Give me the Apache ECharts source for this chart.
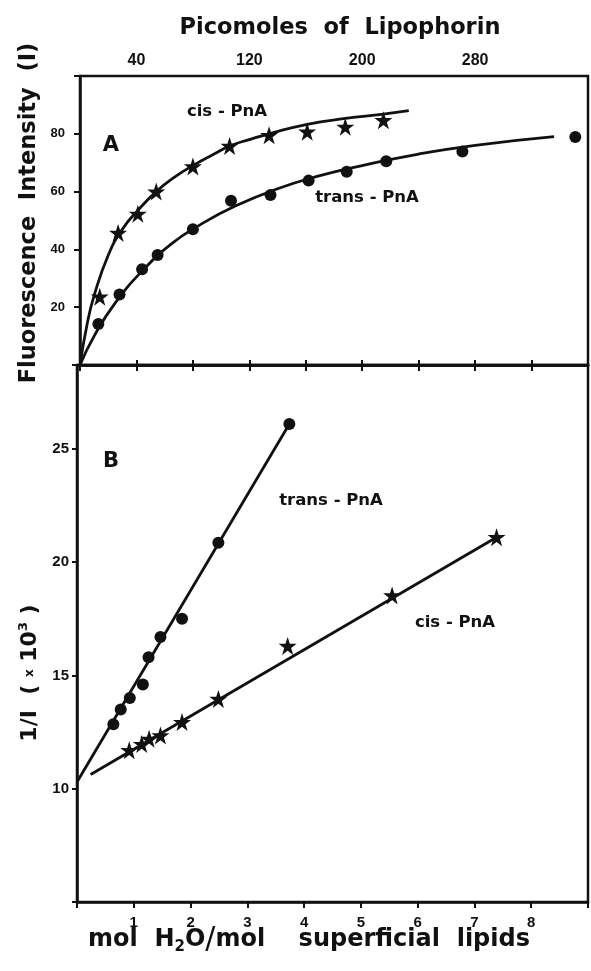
<!DOCTYPE html>
<html>
<head>
<meta charset="utf-8">
<script src="https://cdn.jsdelivr.net/npm/echarts@6/dist/echarts.min.js"></script>
<style>
html, body { margin: 0; padding: 0; background: #fff; }
#main { width: 591px; height: 971px; }
</style>
</head>
<body>
<div id="main"></div>
<script>
// panel A : fluorescence vs picomoles of lipophorin
var cisPmol = [14, 27, 41, 54, 80, 106, 134, 161, 188, 215];
var cisInt = [23.6, 45.7, 52.3, 60, 68.7, 75.8, 79.5, 80.7, 82.4, 84.7];
var transPmol = [13, 28, 44, 55, 80, 107, 135, 162, 189, 217, 271, 351];
var transInt = [14.2, 24.4, 33.1, 38.1, 47, 56.8, 58.8, 63.8, 66.9, 70.5, 73.9, 78.9];
// fitted curves
var cisCurvePmol = [0, 5, 10, 20, 30, 41, 54, 67, 80, 95, 106, 120, 134, 161, 188, 215, 233];
var cisCurveInt = [0, 14, 24, 38, 47, 53.5, 60, 65, 69, 73, 75.8, 78, 80, 83.3, 85.3, 86.8, 88];
var transCurvePmol = [0, 10, 25, 45, 65, 85, 110, 140, 170, 200, 240, 280, 336];
var transCurveInt = [0, 10, 21.5, 33, 42, 48.5, 55, 61, 65.5, 69, 73, 76, 79];

// panel B : 1/I (x10^3) vs mol H2O / mol superficial lipids
var transRatioX = [0.64, 0.77, 0.93, 1.16, 1.26, 1.47, 1.85, 2.49, 3.74];
var transRatioY = [12.84, 13.5, 14.0, 14.6, 15.8, 16.7, 17.5, 20.86, 26.1];
var cisRatioX = [0.92, 1.14, 1.27, 1.47, 1.85, 2.49, 3.71, 5.55, 7.39];
var cisRatioY = [11.7, 11.97, 12.2, 12.35, 12.94, 13.96, 16.3, 18.53, 21.1];
var transLineX = [0, 3.74];
var transLineY = [10.3, 26.1];
var cisLineX = [0.24, 7.39];
var cisLineY = [10.63, 21.1];

// tick labels
var pmolLabels = [40, 120, 200, 280];
var intLabels = [20, 40, 60, 80];
var molLabels = [1, 2, 3, 4, 5, 6, 7, 8];
var invLabels = [10, 15, 20, 25];

var ink = '#111';
var fam = '"DejaVu Sans", sans-serif';
var tickFam = '"Liberation Sans", Arial, sans-serif';
var star = 'path://M50,0L61.8,35.1L98.9,35.1L68.9,56.9L80.3,92.7L50,70.5L19.7,92.7L31.1,56.9L1.1,35.1L38.2,35.1Z';

function zip(a, b) {
    return a.map(function (v, i) { return [v, b[i]]; });
}
function only(list) {
    return function (v) { return list.indexOf(Math.round(v * 100) / 100) >= 0 ? String(v) : ''; };
}
function txt(x, y, text, size, opts) {
    opts = opts || {};
    return {
        type: 'text', x: x, y: y, rotation: opts.rot || 0, z: 10,
        style: {
            text: text, fill: ink,
            font: 'bold ' + size + 'px ' + fam,
            align: opts.align || 'center', verticalAlign: 'middle',
            textAlign: opts.align || 'center', textVerticalAlign: 'middle',
            rich: opts.rich
        }
    };
}

var chart = echarts.init(document.getElementById('main'));

var axisLine = { show: true, lineStyle: { color: ink, width: 2.5 } };
var tick = function (len) { return { show: true, length: len, lineStyle: { color: ink, width: 2 } }; };
var lbl = function (size, margin, list) {
    return { show: true, color: ink, fontSize: size, fontWeight: 'bold', fontFamily: tickFam, margin: margin, formatter: only(list) };
};
var dot = { color: ink, opacity: 1 };

option = {
    backgroundColor: '#fff',
    animation: false,
    grid: [
        { left: 80, right: 1, top: 76, height: 289, show: true, borderColor: ink, borderWidth: 2.5 },
        { left: 77, right: 1, top: 365, height: 537, show: true, borderColor: ink, borderWidth: 2.5 }
    ],
    xAxis: [
        {   // picomoles, top
            type: 'value', gridIndex: 0, position: 'top', min: 0, max: 360, interval: 40,
            axisLine: axisLine, axisTick: tick(5), splitLine: { show: false },
            axisLabel: lbl(16, 7, pmolLabels)
        },
        {   // divider ticks
            type: 'value', gridIndex: 0, position: 'bottom', min: 0, max: 9, interval: 1,
            axisLine: axisLine, axisTick: tick(6), splitLine: { show: false },
            axisLabel: { show: false }
        },
        {   // mol H2O / mol lipids
            type: 'value', gridIndex: 1, position: 'bottom', min: 0, max: 9, interval: 1,
            axisLine: axisLine, axisTick: tick(6), splitLine: { show: false },
            axisLabel: lbl(15, 13, molLabels)
        }
    ],
    yAxis: [
        {
            type: 'value', gridIndex: 0, min: 0, max: 100, interval: 20,
            axisLine: axisLine, axisTick: tick(6), splitLine: { show: false },
            axisLabel: lbl(13, 15, intLabels)
        },
        {
            type: 'value', gridIndex: 1, min: 5, max: 28.7, interval: 5,
            axisLine: axisLine, axisTick: tick(5), splitLine: { show: false },
            axisLabel: lbl(15, 8, invLabels)
        }
    ],
    series: [
        {
            name: 'cis curve', type: 'line', xAxisIndex: 0, yAxisIndex: 0, smooth: true,
            showSymbol: false, data: zip(cisCurvePmol, cisCurveInt),
            lineStyle: { color: ink, width: 2.8 }
        },
        {
            name: 'trans curve', type: 'line', xAxisIndex: 0, yAxisIndex: 0, smooth: true,
            showSymbol: false, data: zip(transCurvePmol, transCurveInt),
            lineStyle: { color: ink, width: 2.8 }
        },
        {
            name: 'cis-PnA', type: 'scatter', xAxisIndex: 0, yAxisIndex: 0,
            symbol: star, symbolSize: 18, data: zip(cisPmol, cisInt), itemStyle: dot
        },
        {
            name: 'trans-PnA', type: 'scatter', xAxisIndex: 0, yAxisIndex: 0,
            symbol: 'circle', symbolSize: 12, data: zip(transPmol, transInt), itemStyle: dot
        },
        {
            name: 'trans line', type: 'line', xAxisIndex: 2, yAxisIndex: 1,
            showSymbol: false, data: zip(transLineX, transLineY),
            lineStyle: { color: ink, width: 2.8 }
        },
        {
            name: 'cis line', type: 'line', xAxisIndex: 2, yAxisIndex: 1,
            showSymbol: false, data: zip(cisLineX, cisLineY),
            lineStyle: { color: ink, width: 2.8 }
        },
        {
            name: 'trans-PnA B', type: 'scatter', xAxisIndex: 2, yAxisIndex: 1,
            symbol: 'circle', symbolSize: 12, data: zip(transRatioX, transRatioY), itemStyle: dot
        },
        {
            name: 'cis-PnA B', type: 'scatter', xAxisIndex: 2, yAxisIndex: 1,
            symbol: star, symbolSize: 18, data: zip(cisRatioX, cisRatioY), itemStyle: dot
        }
    ],
    graphic: [
        txt(340, 28, 'Picomoles  of  Lipophorin', 22.5),
        txt(29, 213, 'Fluorescence  Intensity  (I)', 22.5, { rot: Math.PI / 2 }),
        txt(30, 673, '1/I  ( {s|x} 10{sup|3} )', 22, {
            rot: Math.PI / 2,
            rich: {
                s: { fontSize: 12, fontWeight: 'bold', fontFamily: fam, fill: ink },
                sup: { fontSize: 13, fontWeight: 'bold', fontFamily: fam, fill: ink, verticalAlign: 'top', lineHeight: 26 }
            }
        }),
        txt(88, 940, 'mol  H{sub|2}O{sl|/}mol    superficial  lipids', 24, {
            align: 'left',
            rich: {
                sub: { fontSize: 15, fontWeight: 'bold', fontFamily: fam, fill: ink, verticalAlign: 'bottom', lineHeight: 30 },
                sl: { fontSize: 30, fontWeight: 'normal', fontFamily: fam, fill: ink }
            }
        }),
        txt(111, 146, 'A', 21),
        txt(111, 462, 'B', 21),
        txt(227, 112, 'cis - PnA', 16.5),
        txt(367, 198, 'trans - PnA', 16.5),
        txt(331, 501, 'trans - PnA', 16.5),
        txt(455, 623, 'cis - PnA', 16.5)
    ]
};

chart.setOption(option);
</script>
</body>
</html>
